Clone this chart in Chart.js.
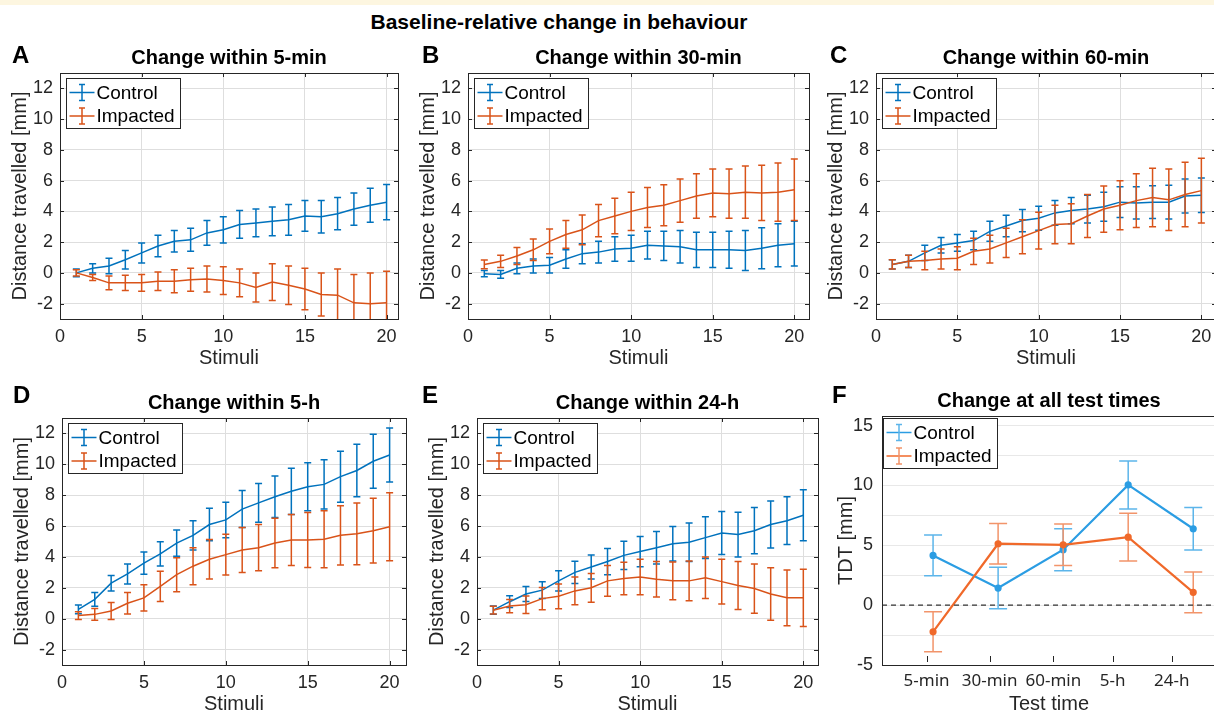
<!DOCTYPE html>
<html>
<head>
<meta charset="utf-8">
<script src="https://cdn.jsdelivr.net/npm/chart.js@4.4.1/dist/chart.umd.min.js"></script>
<style>
  html, body { margin: 0; padding: 0; background: #fff; overflow: hidden; }
  body { width: 1214px; height: 715px; position: relative; font-family: 'Liberation Sans', Arial, sans-serif; }
  #strip { position: absolute; left: 0; top: 0; width: 1214px; height: 5px; background: #fdf6e0; }
  #mainTitle { position: absolute; left: 0; top: 8px; width: 1118px; text-align: center; font-weight: bold; font-size: 21px; line-height: 28px; color: #000; }
  canvas { position: absolute; }
</style>
</head>
<body>
<div id="strip"></div>
<div id="mainTitle">Baseline-relative change in behaviour</div>
<script>
// stimuli 1..20
const stimuli = [1, 2, 3, 4, 5, 6, 7, 8, 9, 10, 11, 12, 13, 14, 15, 16, 17, 18, 19, 20];
const xTicks = [0, 5, 10, 15, 20];
const xTickLabels = ['0', '5', '10', '15', '20'];
const yTicks = [-2, 0, 2, 4, 6, 8, 10, 12];
const yTickLabels = ['-2', '0', '2', '4', '6', '8', '10', '12'];

// A - within 5-min
const ctrl5min = [0, 0.3, 0.45, 0.85, 1.3, 1.75, 2.05, 2.15, 2.6, 2.8, 3.15, 3.25, 3.35, 3.45, 3.7, 3.65, 3.85, 4.15, 4.4, 4.6];
const ctrl5minErr = [0.25, 0.3, 0.5, 0.6, 0.65, 0.7, 0.7, 0.75, 0.8, 0.85, 0.9, 0.9, 0.93, 1.0, 1.0, 1.05, 1.05, 1.05, 1.1, 1.15];
const imp5min = [0, -0.3, -0.65, -0.65, -0.65, -0.55, -0.55, -0.45, -0.4, -0.5, -0.65, -0.95, -0.6, -0.8, -1.05, -1.4, -1.45, -1.95, -2.0, -1.95];
const imp5minErr = [0.2, 0.2, 0.45, 0.5, 0.55, 0.6, 0.75, 0.75, 0.85, 0.9, 0.9, 0.95, 1.2, 1.25, 1.35, 1.4, 1.7, 1.85, 2.0, 2.05];

// B - within 30-min
const ctrl30min = [-0.05, -0.1, 0.3, 0.45, 0.5, 0.9, 1.25, 1.35, 1.55, 1.6, 1.8, 1.75, 1.7, 1.5, 1.5, 1.5, 1.45, 1.6, 1.8, 1.9];
const ctrl30minErr = [0.2, 0.25, 0.35, 0.45, 0.5, 0.6, 0.65, 0.7, 0.8, 0.85, 0.9, 0.95, 1.05, 1.15, 1.15, 1.2, 1.3, 1.33, 1.4, 1.45];
const imp30min = [0.55, 0.75, 1.1, 1.5, 2.05, 2.5, 2.8, 3.4, 3.7, 4.0, 4.25, 4.4, 4.7, 5.0, 5.2, 5.15, 5.25, 5.2, 5.25, 5.4];
const imp30minErr = [0.28, 0.4, 0.55, 0.7, 0.8, 0.9, 0.97, 1.05, 1.15, 1.25, 1.3, 1.33, 1.4, 1.45, 1.55, 1.6, 1.7, 1.8, 1.9, 2.0];

// C - within 60-min
const ctrl60min = [0.55, 0.75, 1.3, 1.8, 1.95, 2.1, 2.7, 3.05, 3.4, 3.55, 3.9, 4.05, 4.15, 4.3, 4.6, 4.55, 4.6, 4.6, 5.0, 5.05];
const ctrl60minErr = [0.3, 0.4, 0.5, 0.5, 0.55, 0.6, 0.65, 0.7, 0.72, 0.78, 0.8, 0.85, 0.9, 0.95, 1.0, 1.05, 1.06, 1.1, 1.1, 1.12];
const imp60min = [0.55, 0.75, 0.8, 0.9, 0.95, 1.4, 1.55, 1.95, 2.35, 2.75, 3.15, 3.2, 3.7, 4.15, 4.4, 4.7, 4.9, 4.75, 5.1, 5.35];
const imp60minErr = [0.3, 0.4, 0.6, 0.65, 0.75, 0.85, 0.9, 0.95, 1.1, 1.2, 1.25, 1.3, 1.4, 1.5, 1.6, 1.75, 1.9, 2.0, 2.1, 2.1];

// D - within 5-h
const ctrl5h = [0.6, 1.25, 2.3, 2.9, 3.6, 4.2, 4.9, 5.4, 6.1, 6.4, 7.1, 7.5, 7.9, 8.25, 8.55, 8.7, 9.2, 9.6, 10.2, 10.6];
const ctrl5hErr = [0.28, 0.45, 0.5, 0.65, 0.72, 0.78, 0.85, 0.95, 1.05, 1.15, 1.2, 1.25, 1.35, 1.5, 1.55, 1.6, 1.65, 1.7, 1.75, 1.75];
const imp5h = [0.2, 0.28, 0.5, 1.0, 1.35, 2.1, 2.85, 3.4, 3.85, 4.15, 4.45, 4.6, 4.9, 5.1, 5.1, 5.15, 5.4, 5.5, 5.7, 5.95];
const imp5hErr = [0.25, 0.38, 0.55, 0.7, 0.85, 0.98, 1.1, 1.2, 1.28, 1.32, 1.45, 1.5, 1.6, 1.65, 1.78, 1.85, 1.92, 2.0, 2.1, 2.2];

// E - within 24-h
const ctrl24h = [0.55, 1.1, 1.6, 1.85, 2.45, 3.0, 3.35, 3.7, 4.1, 4.35, 4.6, 4.85, 4.95, 5.25, 5.55, 5.45, 5.7, 6.1, 6.35, 6.7];
const ctrl24hErr = [0.27, 0.38, 0.48, 0.55, 0.65, 0.72, 0.78, 0.85, 0.92, 0.98, 1.05, 1.12, 1.25, 1.35, 1.4, 1.45, 1.5, 1.52, 1.55, 1.65];
const imp24h = [0.55, 0.82, 0.9, 1.3, 1.45, 1.8, 2.0, 2.45, 2.6, 2.7, 2.55, 2.45, 2.45, 2.65, 2.4, 2.15, 1.95, 1.6, 1.35, 1.35];
const imp24hErr = [0.25, 0.43, 0.57, 0.72, 0.8, 0.9, 0.93, 1.0, 1.05, 1.15, 1.15, 1.22, 1.28, 1.35, 1.45, 1.55, 1.6, 1.7, 1.8, 1.85];

// F - TDT at all test times
const testTimes = ['5-min', '30-min', '60-min', '5-h', '24-h'];
const testTimeX = [1, 2, 3, 4, 5];
const testTimeTicks = [0.9, 1.87, 2.85, 3.76, 4.67];
const tdtCtrl = [4.15, 1.43, 4.63, 10.04, 6.38];
const tdtCtrlErr = [1.7, 1.73, 1.75, 2.0, 1.77];
const tdtImp = [-2.23, 5.13, 5.04, 5.68, 1.07];
const tdtImpErr = [1.67, 1.7, 1.73, 2.0, 1.7];
const tdtTicks = [-5, -2.5, 0, 2.5, 5, 7.5, 10, 12.5, 15];
const tdtTickLabels = ['-5', '', '0', '', '5', '', '10', '', '15'];

const FONT = "'Liberation Sans', Arial, sans-serif";
const INK = '#262626';
const BLUE = '#0072BD', ORANGE = '#D95319';

function series(label, xs, ys, errs, color, extra) {
  return Object.assign({
    label: label,
    data: xs.map((x, i) => ({ x: x, y: ys[i] })),
    errors: errs,
    borderColor: color, backgroundColor: color, errorColor: color,
    borderWidth: 1.5, pointRadius: 0, tension: 0,
    capHalf: 3.5, errorWidth: 1.5
  }, extra || {});
}

// error bars drawn through the y scale, under each dataset's line
const errorBars = {
  id: 'errorBars',
  beforeDatasetDraw(chart, args) {
    const ds = chart.data.datasets[args.index];
    if (!ds.errors) return;
    const { ctx, chartArea: a } = chart;
    const ys = chart.scales.y;
    ctx.save();
    ctx.beginPath();
    ctx.rect(a.left, a.top, a.right - a.left, a.bottom - a.top);
    ctx.clip();
    ctx.strokeStyle = ds.errorColor;
    ctx.lineWidth = ds.errorWidth;
    const c = ds.capHalf;
    args.meta.data.forEach((pt, i) => {
      const v = ds.data[i].y, e = ds.errors[i];
      const x = pt.x, y1 = ys.getPixelForValue(v + e), y2 = ys.getPixelForValue(v - e);
      ctx.beginPath();
      ctx.moveTo(x, y1); ctx.lineTo(x, y2);
      ctx.moveTo(x - c, y1); ctx.lineTo(x + c, y1);
      ctx.moveTo(x - c, y2); ctx.lineTo(x + c, y2);
      ctx.stroke();
    });
    ctx.restore();
  }
};

function deco(p) {
  return {
    id: 'deco',
    afterDraw(chart) {
      const { ctx, chartArea: a } = chart;
      const xs = chart.scales.x, ys = chart.scales.y;
      ctx.save();
      if (p.zeroLine) {
        const y0 = ys.getPixelForValue(0);
        ctx.strokeStyle = '#333';
        ctx.lineWidth = 1.2;
        ctx.setLineDash([5, 4]);
        ctx.beginPath(); ctx.moveTo(a.left, y0); ctx.lineTo(a.right, y0); ctx.stroke();
        ctx.setLineDash([]);
      }
      ctx.strokeStyle = INK;
      ctx.lineWidth = 1;
      ctx.beginPath();
      if (p.style === 'matlab') {
        p.xTickVals.forEach(v => {
          const x = Math.round(xs.getPixelForValue(v)) + 0.5;
          ctx.moveTo(x, a.bottom); ctx.lineTo(x, a.bottom - 4);
          ctx.moveTo(x, a.top); ctx.lineTo(x, a.top + 4);
        });
        p.yTickVals.forEach(v => {
          const y = Math.round(ys.getPixelForValue(v)) + 0.5;
          ctx.moveTo(a.left, y); ctx.lineTo(a.left + 4, y);
          ctx.moveTo(a.right, y); ctx.lineTo(a.right - 4, y);
        });
      } else {
        p.xTickVals.forEach(v => {
          const x = Math.round(xs.getPixelForValue(v)) + 0.5;
          ctx.moveTo(x, a.bottom - 3); ctx.lineTo(x, a.bottom - 9);
        });
      }
      ctx.stroke();
      ctx.strokeRect(Math.round(a.left) + 0.5, Math.round(a.top) + 0.5,
        Math.round(a.right - a.left), Math.round(a.bottom - a.top));

      // legend
      const lx = Math.round(a.left + p.legendAt[0]) + 0.5, ly = Math.round(a.top + p.legendAt[1]) + 0.5;
      ctx.fillStyle = '#fff';
      ctx.fillRect(lx, ly, 114, 50);
      ctx.strokeStyle = INK;
      ctx.strokeRect(lx, ly, 114, 50);
      ctx.font = '19px ' + FONT;
      ctx.textAlign = 'left';
      ctx.textBaseline = 'middle';
      chart.data.datasets.forEach((ds, i) => {
        const ry = ly + 14 + i * 23.5;
        ctx.strokeStyle = ds.borderColor;
        ctx.lineWidth = 1.5;
        ctx.beginPath(); ctx.moveTo(lx + 3, ry); ctx.lineTo(lx + 28, ry); ctx.stroke();
        ctx.strokeStyle = ds.errorColor;
        ctx.beginPath();
        ctx.moveTo(lx + 15.5, ry - 8); ctx.lineTo(lx + 15.5, ry + 8);
        ctx.moveTo(lx + 12.5, ry - 8); ctx.lineTo(lx + 18.5, ry - 8);
        ctx.moveTo(lx + 12.5, ry + 8); ctx.lineTo(lx + 18.5, ry + 8);
        ctx.stroke();
        ctx.fillStyle = '#000';
        ctx.fillText(ds.label, lx + 30, ry + 1);
      });

      // panel title and letter
      ctx.fillStyle = '#000';
      ctx.textAlign = 'center';
      ctx.font = 'bold 20px ' + FONT;
      ctx.fillText(p.title, (a.left + a.right) / 2, a.top - 15);
      ctx.textAlign = 'left';
      ctx.font = 'bold 24px ' + FONT;
      ctx.fillText(p.letter, p.letterAt[0] - p.box.x, p.letterAt[1] - p.box.y);
      ctx.restore();
    }
  };
}

function makePanel(p) {
  const cv = document.createElement('canvas');
  cv.width = p.box.w; cv.height = p.box.h;
  cv.style.left = p.box.x + 'px';
  cv.style.top = p.box.y + 'px';
  document.body.appendChild(cv);
  const a = p.area;
  const XH = 51;
  new Chart(cv, {
    type: 'line',
    data: { datasets: p.datasets },
    options: {
      responsive: false, animation: false, devicePixelRatio: 1,
      layout: { padding: { left: 0, top: a.t - p.box.y, right: p.box.x + p.box.w - a.r, bottom: p.box.y + p.box.h - a.b - XH } },
      plugins: { legend: { display: false }, tooltip: { enabled: false } },
      scales: {
        x: {
          type: 'linear', min: p.xMin, max: p.xMax,
          afterBuildTicks: s => { s.ticks = p.xTickVals.map(v => ({ value: v })); },
          afterFit: s => { s.height = XH; },
          grid: { display: p.style === 'matlab', color: '#dedede', drawTicks: false },
          border: { display: false },
          ticks: { padding: p.xTickPad, color: INK, autoSkip: false, maxRotation: 0,
                   font: { family: p.xTickFont, size: p.xTickSize },
                   callback: (v, i) => p.xTickLabels[i] },
          title: { display: true, text: p.xTitle, color: INK, font: { family: FONT, size: 20 }, padding: { top: 0, bottom: 0 } }
        },
        y: {
          type: 'linear', min: p.yMin, max: p.yMax,
          afterBuildTicks: s => { s.ticks = p.yTickVals.map(v => ({ value: v })); },
          afterFit: s => { s.width = a.l - p.box.x; },
          grid: { color: p.style === 'matlab' ? '#dedede' : '#e8e8e8', drawTicks: false },
          border: { display: false },
          ticks: { padding: p.yTickPad, color: INK, font: { family: FONT, size: 18 },
                   callback: (v, i) => p.yTickLabels[i] },
          title: { display: true, text: p.yTitle, color: INK, font: { family: FONT, size: 20 },
                   padding: { top: a.l - p.yTitleGap - 12 - p.box.x, bottom: 0 } }
        }
      }
    },
    plugins: [errorBars, deco(p)]
  });
}

function matlabPanel(letter, letterAt, title, box, area, xMax, c, ce, m, me) {
  return {
    style: 'matlab', letter: letter, letterAt: letterAt, title: title, box: box, area: area,
    xMin: 0, xMax: xMax, xTickVals: xTicks, xTickLabels: xTickLabels, xTickPad: 7, xTickFont: FONT, xTickSize: 18,
    yMin: -3, yMax: 13, yTickVals: yTicks, yTickLabels: yTickLabels, yTickPad: 7,
    xTitle: 'Stimuli', yTitle: 'Distance travelled [mm]', yTitleGap: 39.5,
    legendAt: [6, 5],
    datasets: [
      series('Control', stimuli, c, ce, BLUE, { order: 1 }),
      series('Impacted', stimuli, m, me, ORANGE, { order: 0 })
    ]
  };
}

makePanel(matlabPanel('A', [12, 56], 'Change within 5-min', { x: 0, y: 35, w: 405, h: 340 }, { l: 60, t: 73, r: 398, b: 319 }, 20.7, ctrl5min, ctrl5minErr, imp5min, imp5minErr));
makePanel(matlabPanel('B', [422, 56], 'Change within 30-min', { x: 405, y: 35, w: 410, h: 340 }, { l: 468, t: 73, r: 809, b: 319 }, 20.9, ctrl30min, ctrl30minErr, imp30min, imp30minErr));
makePanel(matlabPanel('C', [830, 56], 'Change within 60-min', { x: 815, y: 35, w: 410, h: 340 }, { l: 876, t: 73, r: 1216, b: 319 }, 20.9, ctrl60min, ctrl60minErr, imp60min, imp60minErr));
makePanel(matlabPanel('D', [13, 396], 'Change within 5-h', { x: 0, y: 378, w: 410, h: 340 }, { l: 62, t: 418, r: 406, b: 665 }, 21, ctrl5h, ctrl5hErr, imp5h, imp5hErr));
makePanel(matlabPanel('E', [422, 396], 'Change within 24-h', { x: 410, y: 378, w: 415, h: 340 }, { l: 477, t: 418, r: 818, b: 665 }, 20.9, ctrl24h, ctrl24hErr, imp24h, imp24hErr));

makePanel({
  style: 'plain', letter: 'F', letterAt: [832, 396], title: 'Change at all test times',
  box: { x: 820, y: 378, w: 405, h: 340 }, area: { l: 882, t: 416, r: 1216, b: 665 },
  xMin: 0.215, xMax: 5.35, xTickVals: testTimeTicks, xTickLabels: testTimes, xTickPad: 6,
  xTickFont: "'Noto Sans', sans-serif", xTickSize: 17,
  yMin: -5, yMax: 15.8, yTickVals: tdtTicks, yTickLabels: tdtTickLabels, yTickPad: 9,
  xTitle: 'Test time', yTitle: 'TDT [mm]', yTitleGap: 36,
  legendAt: [1, 2], zeroLine: true,
  datasets: [
    series('Control', testTimeX, tdtCtrl, tdtCtrlErr, '#2b9de3',
      { order: 1, borderWidth: 2.2, pointRadius: 2.5, errorColor: '#5cb5ea', capHalf: 9, errorWidth: 1.5 }),
    series('Impacted', testTimeX, tdtImp, tdtImpErr, '#f0692a',
      { order: 0, borderWidth: 2.2, pointRadius: 2.5, errorColor: '#f2946a', capHalf: 9, errorWidth: 1.5 })
  ]
});
</script>
</body>
</html>
